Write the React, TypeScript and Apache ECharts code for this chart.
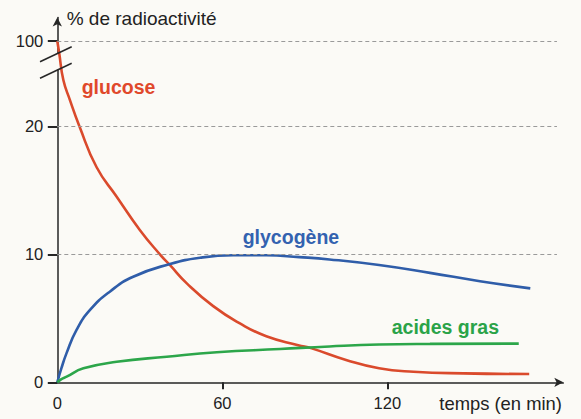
import React, { useEffect, useRef } from "react";
import * as echarts from "echarts";

// ---- data (minutes, % of radioactivity) ----
const TIME_LABELS = [0, 60, 120];
const TIME_TICKS = [60, 120];
const VALUE_TICKS = [0, 10, 20, 100];
const GRID_VALUES = [10, 20, 100];

const glucoseTime = [0, 0.7, 2.2, 4.6, 8, 14.3, 21.6, 30, 37.3, 41, 47, 56.7, 66.4, 76, 87.6, 92.5, 105, 117, 129.5, 147.6, 171.6];
const glucoseValue = [100, 88.5, 63.5, 44.6, 20.3, 16.8, 14.5, 11.9, 10.0, 9.15, 7.75, 5.95, 4.6, 3.6, 2.9, 2.65, 1.75, 1.1, 0.83, 0.7, 0.65];

const glycogenTime = [0, 1.5, 3.4, 7, 11.9, 19.2, 27.6, 41, 51.9, 64, 76, 88, 99, 117, 135.5, 153.7, 172];
const glycogenValue = [0, 1.1, 2.3, 4.1, 5.65, 7.1, 8.25, 9.24, 9.73, 9.92, 9.92, 9.78, 9.6, 9.16, 8.55, 7.9, 7.34];

const fattyTime = [0, 1.5, 3.4, 9.5, 21.6, 39.8, 58, 81, 99, 117, 135.5, 167.8];
const fattyValue = [0, 0.25, 0.44, 1.09, 1.6, 2.0, 2.35, 2.6, 2.8, 2.95, 3.0, 3.02];

// broken axis: 0..20 linear, 20..100 compressed
const BREAK_AT = 20;
const REAL_TOP = 100;
const SHOWN_TOP = 26.66;
const shown = (v: number) =>
  v <= BREAK_AT ? v : BREAK_AT + ((v - BREAK_AT) * (SHOWN_TOP - BREAK_AT)) / (REAL_TOP - BREAK_AT);
const real = (s: number) =>
  s <= BREAK_AT + 1e-6 ? s : BREAK_AT + ((s - BREAK_AT) * (REAL_TOP - BREAK_AT)) / (SHOWN_TOP - BREAK_AT);

const pairs = (t: number[], v: number[]) => t.map((x, i) => [x, shown(v[i])]);

const BG = "#fbfaf6";
const AXIS = "#262626";
const TEXT = "#222";
const RED = "#da4a2c";
const BLUE = "#2f5da9";
const GREEN = "#2ca64a";
const FONT = '"Liberation Sans", Arial, Helvetica, sans-serif';

export default function App() {
  const ref = useRef<HTMLDivElement>(null);

  useEffect(() => {
    if (!ref.current) return;
    const chart = echarts.init(ref.current, undefined, { renderer: "svg" });
    const X_END = 181.7;

    chart.setOption({
      animation: false,
      backgroundColor: BG,
      grid: { left: 57.3, right: 17.7, top: 17.5, bottom: 36.7 },
      xAxis: {
        type: "value",
        min: 0,
        max: 184,
        axisLine: {
          show: true,
          symbol: ["none", "arrow"],
          symbolSize: [7, 9],
          lineStyle: { color: AXIS, width: 1.5 },
        },
        axisTick: {
          show: true,
          customValues: TIME_TICKS,
          length: 7,
          lineStyle: { color: AXIS, width: 2 },
        },
        axisLabel: { customValues: TIME_LABELS, margin: 12, fontSize: 16.5, color: TEXT, fontFamily: FONT },
        splitLine: { show: false },
      },
      yAxis: {
        type: "value",
        min: 0,
        max: 28.5,
        axisLine: {
          show: true,
          symbol: ["none", "arrow"],
          symbolSize: [7, 9],
          lineStyle: { color: AXIS, width: 1.5 },
        },
        axisTick: {
          show: true,
          customValues: VALUE_TICKS.map(shown),
          length: 9.5,
          lineStyle: { color: AXIS, width: 2 },
        },
        axisLabel: {
          customValues: VALUE_TICKS.map(shown),
          margin: 14,
          fontSize: 16.5,
          color: TEXT,
          fontFamily: FONT,
          formatter: (v: number) => String(Math.round(real(v))),
        },
        splitLine: { show: false },
      },
      series: [
        {
          name: "grid",
          type: "line",
          data: [],
          z: 1,
          silent: true,
          markLine: {
            silent: true,
            symbol: ["none", "none"],
            label: { show: false },
            lineStyle: { color: "#9a9a9a", type: [4, 3], width: 1 },
            emphasis: { disabled: true },
            data: GRID_VALUES.map((g) => [{ coord: [0, shown(g)] }, { coord: [X_END, shown(g)] }]),
          },
        },
        {
          name: "glucose",
          type: "line",
          data: pairs(glucoseTime, glucoseValue),
          showSymbol: false,
          smooth: 0.5,
          lineStyle: { color: RED, width: 2.6 },
          z: 2,
        },
        {
          name: "glycogène",
          type: "line",
          data: pairs(glycogenTime, glycogenValue),
          showSymbol: false,
          smooth: 0.5,
          lineStyle: { color: BLUE, width: 2.6 },
          z: 2,
        },
        {
          name: "acides gras",
          type: "line",
          data: pairs(fattyTime, fattyValue),
          showSymbol: false,
          smooth: 0.5,
          lineStyle: { color: GREEN, width: 2.6 },
          z: 2,
        },
      ],
      graphic: [
        { type: "rect", z: 1, shape: { x: 55.5, y: 54, width: 4, height: 15.5 }, style: { fill: BG } },
        { type: "line", z: 3, shape: { x1: 40, y1: 61.7, x2: 71.7, y2: 46.7 }, style: { stroke: AXIS, lineWidth: 1.5 } },
        { type: "line", z: 3, shape: { x1: 40, y1: 78.3, x2: 71.7, y2: 63.3 }, style: { stroke: AXIS, lineWidth: 1.5 } },
        {
          type: "text", z: 3, x: 66.7, y: 18.4,
          style: { text: "% de radioactivité", fill: TEXT, fontSize: 19, fontFamily: FONT, align: "left", verticalAlign: "middle" },
        },
        {
          type: "text", z: 3, x: 439.3, y: 403.6,
          style: { text: "temps (en min)", fill: TEXT, fontSize: 18.4, fontFamily: FONT, align: "left", verticalAlign: "middle" },
        },
        {
          type: "text", z: 3, x: 81.7, y: 87.2,
          style: { text: "glucose", fill: "#e0482b", fontSize: 19.5, fontWeight: "bold", fontFamily: FONT, align: "left", verticalAlign: "middle" },
        },
        {
          type: "text", z: 3, x: 242.7, y: 236.5,
          style: { text: "glycogène", fill: "#3362b0", fontSize: 19.5, fontWeight: "bold", fontFamily: FONT, align: "left", verticalAlign: "middle" },
        },
        {
          type: "text", z: 3, x: 391.7, y: 326.5,
          style: { text: "acides gras", fill: "#2aa348", fontSize: 19.5, fontWeight: "bold", fontFamily: FONT, align: "left", verticalAlign: "middle" },
        },
      ],
    });

    return () => chart.dispose();
  }, []);

  return <div ref={ref} style={{ position: "fixed", left: 0, top: 0, width: 581, height: 419 }} />;
}
